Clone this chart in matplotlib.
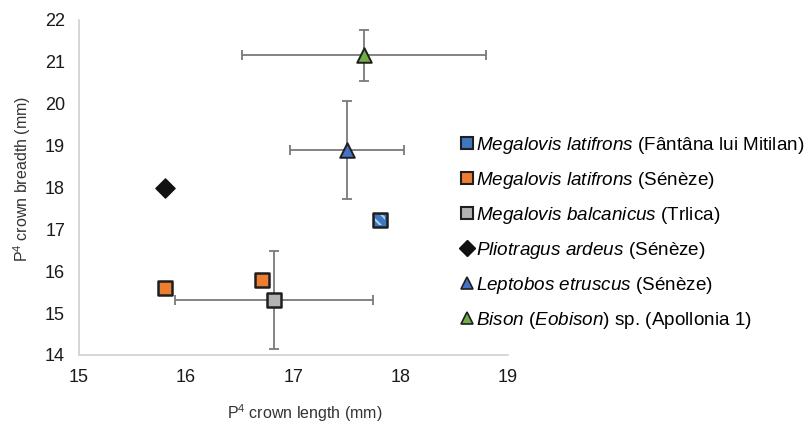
import matplotlib.pyplot as plt
from matplotlib.lines import Line2D

plt.rcParams['font.family'] = ['Liberation Sans', 'DejaVu Sans']
plt.rcParams['mathtext.fontset'] = 'custom'
plt.rcParams['mathtext.rm'] = 'Liberation Sans'
plt.rcParams['mathtext.it'] = 'Liberation Sans:italic'
plt.rcParams['hatch.linewidth'] = 1.5

# P4 crown length / breadth (mm)
flm_x = [17.81]
flm_y = [17.22]

sen_x = [15.80, 16.71]
sen_y = [15.59, 15.79]

balc_x = [16.82]
balc_y = [15.31]
balc_xerr = [0.92]
balc_yerr = [1.17]

plio_x = [15.80]
plio_y = [17.98]

lept_x = [17.50]
lept_y = [18.90]
lept_xerr = [0.53]
lept_yerr = [1.17]

bison_x = [17.66]
bison_y = [21.15]
bison_xerr = [1.14]
bison_yerr = [0.60]

labels = [
    r'$\mathit{Megalovis\ latifrons}$ (Fântâna lui Mitilan)',
    r'$\mathit{Megalovis\ latifrons}$ (Sénèze)',
    r'$\mathit{Megalovis\ balcanicus}$ (Trlica)',
    r'$\mathit{Pliotragus\ ardeus}$ (Sénèze)',
    r'$\mathit{Leptobos\ etruscus}$ (Sénèze)',
    r'$\mathit{Bison\ (Eobison)}$ sp. (Apollonia 1)',
]

edge = '#1f1f1f'
errc = '#7a7a7a'

fig = plt.figure(figsize=(8.11, 4.22), dpi=100)
ax = fig.add_axes([0.0974, 0.159, 0.5286, 0.794])

eb = dict(fmt='none', ecolor=errc, elinewidth=1.3, capsize=3.5, capthick=1.3, zorder=2)
ax.errorbar(balc_x, balc_y, xerr=balc_xerr, yerr=balc_yerr, **eb)
ax.errorbar(lept_x, lept_y, xerr=lept_xerr, yerr=lept_yerr, **eb)
ax.errorbar(bison_x, bison_y, xerr=bison_xerr, yerr=bison_yerr, **eb)

ax.scatter(flm_x, flm_y, marker='s', s=100, facecolor='#3f78bf', edgecolor=edge,
           linewidth=1.8, zorder=3)
# light diagonal stripes on top of the blue square
ax.scatter(flm_x, flm_y, marker='s', s=55, facecolor='none', edgecolor='#a9cff2',
           linewidth=0, hatch='\\\\\\', zorder=4)
ax.scatter(sen_x, sen_y, marker='s', s=100, facecolor='#ed7d31', edgecolor=edge,
           linewidth=1.8, zorder=3)
ax.scatter(balc_x, balc_y, marker='s', s=100, facecolor='#b3b3b3', edgecolor=edge,
           linewidth=1.8, zorder=3)
ax.scatter(plio_x, plio_y, marker='D', s=95, facecolor='#111111', edgecolor='#111111',
           linewidth=1, zorder=3)
ax.scatter(lept_x, lept_y, marker='^', s=110, facecolor='#4472c4', edgecolor=edge,
           linewidth=1.4, zorder=3)
ax.scatter(bison_x, bison_y, marker='^', s=110, facecolor='#70ad47', edgecolor=edge,
           linewidth=1.4, zorder=3)

ax.set_xlim(15, 19)
ax.set_ylim(14, 22)
ax.set_xticks([15, 16, 17, 18, 19])
ax.set_yticks(range(14, 23))
for s in ['top', 'right']:
    ax.spines[s].set_visible(False)
for s in ['left', 'bottom']:
    ax.spines[s].set_color('#d0d0d0')
    ax.spines[s].set_linewidth(1.2)
ax.tick_params(length=0, labelsize=13, colors='#1a1a1a', pad=10)
ax.set_xlabel(r'P$^4$ crown length (mm)', fontsize=11.5, color='#333333')
ax.set_ylabel(r'P$^4$ crown breadth (mm)', fontsize=11.5, color='#333333')
ax.xaxis.set_label_coords(0.527, -0.14)
ax.yaxis.set_label_coords(-0.107, 0.525)

handles = [
    Line2D([], [], ls='none', marker='s', ms=8, mfc='#3f78bf', mec=edge, mew=1.5),
    Line2D([], [], ls='none', marker='s', ms=8, mfc='#ed7d31', mec=edge, mew=1.5),
    Line2D([], [], ls='none', marker='s', ms=8, mfc='#b3b3b3', mec=edge, mew=1.5),
    Line2D([], [], ls='none', marker='D', ms=8, mfc='#111111', mec='#111111'),
    Line2D([], [], ls='none', marker='^', ms=9, mfc='#4472c4', mec=edge, mew=1.2),
    Line2D([], [], ls='none', marker='^', ms=9, mfc='#70ad47', mec=edge, mew=1.2),
]
fig.legend(handles, labels, loc='upper left', bbox_to_anchor=(0.566, 0.68),
           frameon=False, fontsize=13.6, handlelength=0.8, handletextpad=0.1,
           labelspacing=0.74, borderaxespad=0, borderpad=0)

fig.savefig('out.png', dpi=100)
